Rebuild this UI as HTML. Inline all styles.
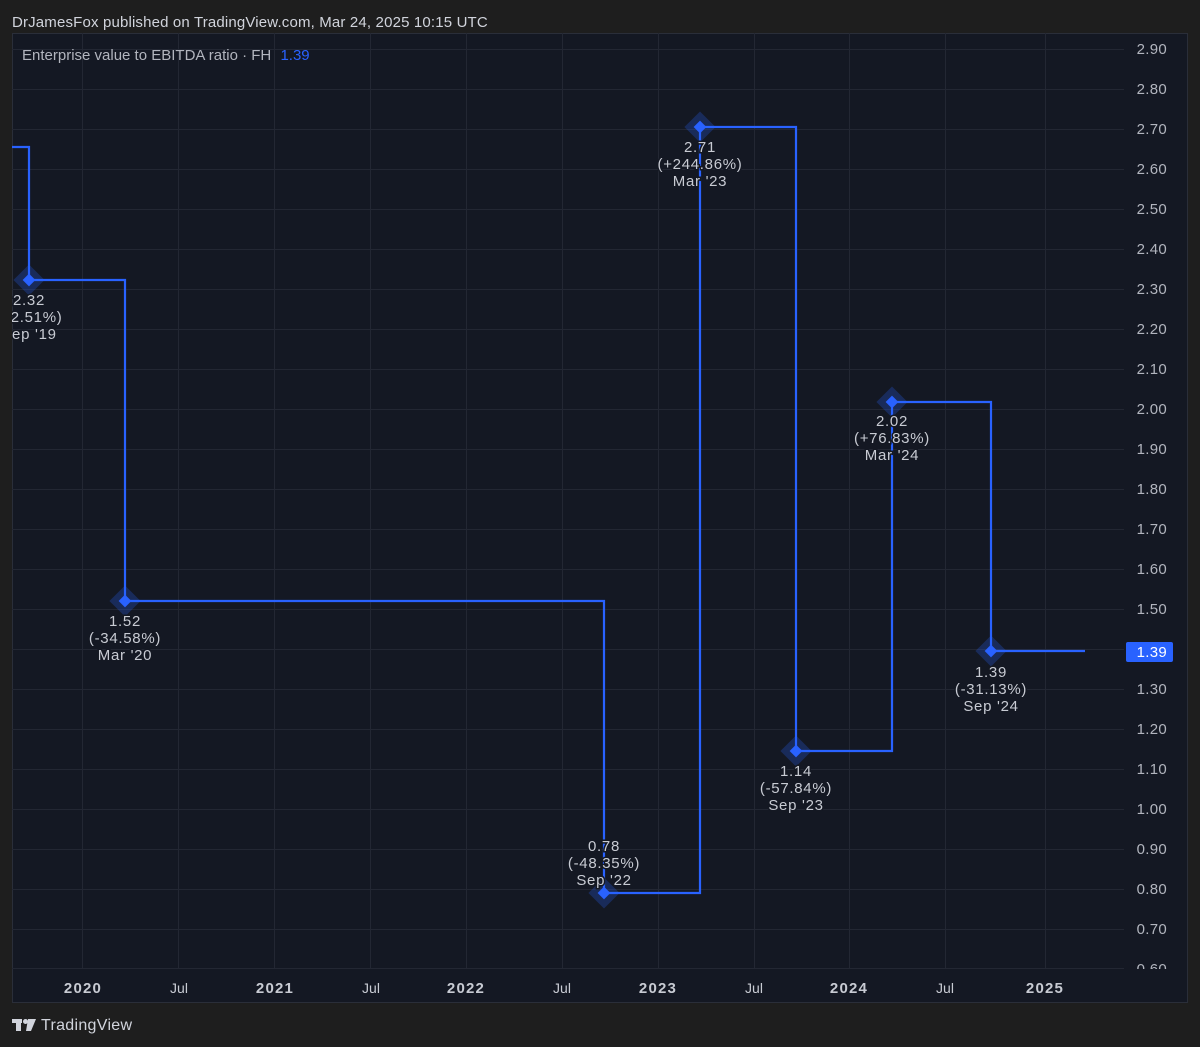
<!DOCTYPE html>
<html><head><meta charset="utf-8"><style>
html,body{margin:0;padding:0;background:#1e1e1e;}
svg{display:block;}
text{font-family:"Liberation Sans",sans-serif;}
</style></head><body>
<svg width="1200" height="1047" viewBox="0 0 1200 1047" xmlns="http://www.w3.org/2000/svg">
<defs>
<clipPath id="plot"><rect x="12" y="33" width="1112" height="936"/></clipPath>
<clipPath id="paxis"><rect x="1124" y="33" width="64" height="936"/></clipPath>
</defs>
<rect width="1200" height="1047" fill="#1e1e1e"/>
<text x="12" y="27" font-size="15" letter-spacing="0.16" fill="#d1d4dc">DrJamesFox published on TradingView.com, Mar 24, 2025 10:15 UTC</text>
<rect x="12.5" y="33.5" width="1175" height="969" fill="#141823" stroke="#2a2e39" stroke-width="1"/>
<g stroke="#232733" stroke-width="1">
<line x1="12" y1="49.5" x2="1124" y2="49.5"/><line x1="12" y1="89.5" x2="1124" y2="89.5"/><line x1="12" y1="129.5" x2="1124" y2="129.5"/><line x1="12" y1="169.5" x2="1124" y2="169.5"/><line x1="12" y1="209.5" x2="1124" y2="209.5"/><line x1="12" y1="249.5" x2="1124" y2="249.5"/><line x1="12" y1="289.5" x2="1124" y2="289.5"/><line x1="12" y1="329.5" x2="1124" y2="329.5"/><line x1="12" y1="369.5" x2="1124" y2="369.5"/><line x1="12" y1="409.5" x2="1124" y2="409.5"/><line x1="12" y1="449.5" x2="1124" y2="449.5"/><line x1="12" y1="489.5" x2="1124" y2="489.5"/><line x1="12" y1="529.5" x2="1124" y2="529.5"/><line x1="12" y1="569.5" x2="1124" y2="569.5"/><line x1="12" y1="609.5" x2="1124" y2="609.5"/><line x1="12" y1="649.5" x2="1124" y2="649.5"/><line x1="12" y1="689.5" x2="1124" y2="689.5"/><line x1="12" y1="729.5" x2="1124" y2="729.5"/><line x1="12" y1="769.5" x2="1124" y2="769.5"/><line x1="12" y1="809.5" x2="1124" y2="809.5"/><line x1="12" y1="849.5" x2="1124" y2="849.5"/><line x1="12" y1="889.5" x2="1124" y2="889.5"/><line x1="12" y1="929.5" x2="1124" y2="929.5"/><line x1="12" y1="968.5" x2="1124" y2="968.5"/>
<line x1="82.5" y1="33" x2="82.5" y2="969"/><line x1="178.5" y1="33" x2="178.5" y2="969"/><line x1="274.5" y1="33" x2="274.5" y2="969"/><line x1="370.5" y1="33" x2="370.5" y2="969"/><line x1="466.5" y1="33" x2="466.5" y2="969"/><line x1="562.5" y1="33" x2="562.5" y2="969"/><line x1="658.5" y1="33" x2="658.5" y2="969"/><line x1="754.5" y1="33" x2="754.5" y2="969"/><line x1="849.5" y1="33" x2="849.5" y2="969"/><line x1="945.5" y1="33" x2="945.5" y2="969"/><line x1="1045.5" y1="33" x2="1045.5" y2="969"/>
</g>
<text x="22" y="60" font-size="15" fill="#b2b5be">Enterprise value to EBITDA ratio · FH <tspan fill="#2962ff" dx="5">1.39</tspan></text>
<g clip-path="url(#plot)">
<polyline fill="none" stroke="#2962ff" stroke-width="2.2" points="12,147 29,147 29,280 125,280 125,601 604,601 604,893 700,893 700,127 796,127 796,751 892,751 892,402 991,402 991,651 1085,651"/>
<g fill="#2962ff" fill-opacity="0.25">
<rect x="18" y="269" width="22" height="22" transform="rotate(45 29 280)"/>
<rect x="114" y="590" width="22" height="22" transform="rotate(45 125 601)"/>
<rect x="593" y="882" width="22" height="22" transform="rotate(45 604 893)"/>
<rect x="689" y="116" width="22" height="22" transform="rotate(45 700 127)"/>
<rect x="785" y="740" width="22" height="22" transform="rotate(45 796 751)"/>
<rect x="881" y="391" width="22" height="22" transform="rotate(45 892 402)"/>
<rect x="980" y="640" width="22" height="22" transform="rotate(45 991 651)"/>
</g>
<g fill="#2962ff">
<rect x="24.5" y="275.5" width="9" height="9" transform="rotate(45 29 280)"/>
<rect x="120.5" y="596.5" width="9" height="9" transform="rotate(45 125 601)"/>
<rect x="599.5" y="888.5" width="9" height="9" transform="rotate(45 604 893)"/>
<rect x="695.5" y="122.5" width="9" height="9" transform="rotate(45 700 127)"/>
<rect x="791.5" y="746.5" width="9" height="9" transform="rotate(45 796 751)"/>
<rect x="887.5" y="397.5" width="9" height="9" transform="rotate(45 892 402)"/>
<rect x="986.5" y="646.5" width="9" height="9" transform="rotate(45 991 651)"/>
</g>
<g font-size="15" letter-spacing="0.7" fill="#c8cbd3" text-anchor="middle" stroke="#141823" stroke-width="3" paint-order="stroke">
<text x="29" y="305">2.32</text><text x="29" y="322">(+2.51%)</text><text x="29" y="339">Sep '19</text>
<text x="125" y="626">1.52</text><text x="125" y="643">(-34.58%)</text><text x="125" y="660">Mar '20</text>
<text x="604" y="851">0.78</text><text x="604" y="868">(-48.35%)</text><text x="604" y="885">Sep '22</text>
<text x="700" y="152">2.71</text><text x="700" y="169">(+244.86%)</text><text x="700" y="186">Mar '23</text>
<text x="796" y="776">1.14</text><text x="796" y="793">(-57.84%)</text><text x="796" y="810">Sep '23</text>
<text x="892" y="426">2.02</text><text x="892" y="443">(+76.83%)</text><text x="892" y="460">Mar '24</text>
<text x="991" y="677">1.39</text><text x="991" y="694">(-31.13%)</text><text x="991" y="711">Sep '24</text>
</g>
</g>
<g clip-path="url(#paxis)" font-size="15" letter-spacing="0.3" fill="#b2b5be" text-anchor="end">
<text x="1167" y="54">2.90</text><text x="1167" y="94">2.80</text><text x="1167" y="134">2.70</text><text x="1167" y="174">2.60</text><text x="1167" y="214">2.50</text><text x="1167" y="254">2.40</text><text x="1167" y="294">2.30</text><text x="1167" y="334">2.20</text><text x="1167" y="374">2.10</text><text x="1167" y="414">2.00</text><text x="1167" y="454">1.90</text><text x="1167" y="494">1.80</text><text x="1167" y="534">1.70</text><text x="1167" y="574">1.60</text><text x="1167" y="614">1.50</text><text x="1167" y="694">1.30</text><text x="1167" y="734">1.20</text><text x="1167" y="774">1.10</text><text x="1167" y="814">1.00</text><text x="1167" y="854">0.90</text><text x="1167" y="894">0.80</text><text x="1167" y="934">0.70</text><text x="1167" y="974">0.60</text>
</g>
<rect x="1126" y="642" width="47" height="20" rx="2" fill="#2962ff"/>
<text x="1167" y="657" font-size="15" letter-spacing="0.3" fill="#ffffff" text-anchor="end">1.39</text>
<g font-size="14" fill="#c8cbd3" text-anchor="middle">
<text x="83" y="993" font-size="15" font-weight="bold" letter-spacing="1.2">2020</text><text x="179" y="993">Jul</text>
<text x="275" y="993" font-size="15" font-weight="bold" letter-spacing="1.2">2021</text><text x="371" y="993">Jul</text>
<text x="466" y="993" font-size="15" font-weight="bold" letter-spacing="1.2">2022</text><text x="562" y="993">Jul</text>
<text x="658" y="993" font-size="15" font-weight="bold" letter-spacing="1.2">2023</text><text x="754" y="993">Jul</text>
<text x="849" y="993" font-size="15" font-weight="bold" letter-spacing="1.2">2024</text><text x="945" y="993">Jul</text>
<text x="1045" y="993" font-size="15" font-weight="bold" letter-spacing="1.2">2025</text>
</g>
<g fill="#d1d4dc">
<rect x="12" y="1019" width="10" height="4"/>
<rect x="16" y="1019" width="5" height="12"/>
<circle cx="25.5" cy="1021.5" r="2.5"/>
<polygon points="28,1019 36,1019 31,1031 26,1031"/>
</g>
<text x="41" y="1030" font-size="16" letter-spacing="0.3" fill="#d1d4dc">TradingView</text>
</svg>
</body></html>
